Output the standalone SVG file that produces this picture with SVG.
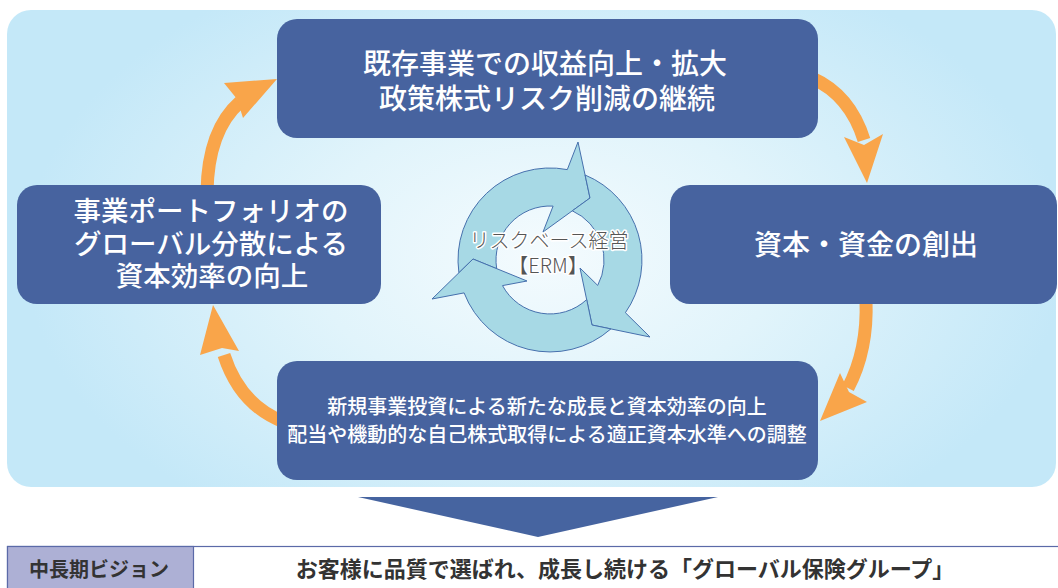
<svg xmlns="http://www.w3.org/2000/svg" width="1058" height="588" viewBox="0 0 1058 588">
<defs>
<radialGradient id="bg" gradientUnits="userSpaceOnUse" cx="545" cy="255" r="520" gradientTransform="translate(545 255) scale(1 0.62) translate(-545 -255)">
<stop offset="0" stop-color="#f4fbfe"/>
<stop offset="0.45" stop-color="#e1f4fb"/>
<stop offset="1" stop-color="#c4e8f8"/>
</radialGradient>
<style>
.box{fill:#47639f;}
.bt{font-family:"Noto Sans CJK JP","Noto Sans",sans-serif;fill:#ffffff;font-weight:500;text-anchor:middle;}
.ring{fill:#a7d9e5;stroke:#4670ad;stroke-width:1;stroke-linejoin:miter;}
.stem{fill:none;stroke:#f9a54a;stroke-width:13;}
.head{fill:#f9a54a;}
.erm{font-family:"Noto Sans CJK JP","Noto Sans",sans-serif;font-size:20px;fill:#555555;stroke:#ffffff;stroke-width:3;paint-order:stroke;stroke-linejoin:round;text-anchor:middle;font-weight:300;}
.bar{font-family:"Noto Sans CJK JP","Noto Sans",sans-serif;font-weight:700;fill:#333333;text-anchor:middle;}
</style>
</defs>
<rect x="7" y="10" width="1049" height="477" rx="24" fill="url(#bg)"/>

<g id="erm">
<path class="ring" d="M 458.9,272.8 A 92 92 0 0 1 567.3,169.6 L 578,142 L 590,198 L 543,232 L 553.1,206.1 A 54 54 0 0 0 496.7,268.7 L 473,259 Z"/>
<path class="ring" d="M 585.1,175 A 92 92 0 0 1 625.4,312.7 L 650,337 L 592,325 L 580,268 L 597.7,285.4 A 54 54 0 0 0 572.3,210.8 L 590,198 Z"/>
<path class="ring" d="M 610.9,328.9 A 92 92 0 0 1 464.1,292.9 L 432,299 L 473,259 L 527,281 L 502.5,285.6 A 54 54 0 0 0 586.7,299.6 L 592,325 Z"/>
<text class="erm" x="549" y="248">リスクベース経営</text>
<text class="erm" x="548" y="273">【ERM】</text>
</g>

<g id="connectors">
<path class="stem" d="M 812 78 Q 850 95 864 140"/>
<polygon class="head" points="844,137 867,183 883,134 864,145"/>
<path class="stem" d="M 866 300 Q 868 350 848 388"/>
<polygon class="head" points="840,373 820,421 867,402 849,392"/>
<path class="stem" d="M 284 422 Q 240 405 224 355"/>
<polygon class="head" points="200,355 213,305 239,351 222,348"/>
<path class="stem" d="M 207 192 Q 208 130 240 102"/>
<polygon class="head" points="224,83 277,79 243,118 237,99"/>
</g>

<g id="node-top">
<rect class="box" x="277" y="19" width="541" height="119" rx="20"/>
<text class="bt" x="545" y="74" font-size="28">既存事業での収益向上・拡大</text>
<text class="bt" x="547" y="109" font-size="28">政策株式リスク削減の継続</text>
</g>
<g id="node-right">
<rect class="box" x="670" y="185" width="387" height="119" rx="20"/>
<text class="bt" x="866" y="255" font-size="28">資本・資金の創出</text>
</g>
<g id="node-left">
<rect class="box" x="17" y="185" width="364" height="119" rx="20"/>
<text class="bt" x="211" y="221" font-size="27.5">事業ポートフォリオの</text>
<text class="bt" x="211" y="254" font-size="27.5">グローバル分散による</text>
<text class="bt" x="212" y="286" font-size="27.5">資本効率の向上</text>
</g>
<g id="node-bottom">
<rect class="box" x="277" y="361" width="541" height="119" rx="20"/>
<text class="bt" x="547" y="414" font-size="20">新規事業投資による新たな成長と資本効率の向上</text>
<text class="bt" x="547" y="442" font-size="20">配当や機動的な自己株式取得による適正資本水準への調整</text>
</g>

<g id="down-arrow">
<polygon points="358,497 718,497 538,537" fill="#4664a0"/>
</g>

<g id="vision">
<rect x="7.5" y="546.5" width="1060" height="50" fill="#ffffff" stroke="#5b6aa8" stroke-width="1.2"/>
<rect x="7.5" y="546.5" width="186" height="50" fill="#adb0d5" stroke="#5b6aa8" stroke-width="1.2"/>
<text class="bar" x="99" y="577" font-size="20">中長期ビジョン</text>
<text class="bar" x="625" y="577" font-size="22">お客様に品質で選ばれ、成長し続ける「グローバル保険グループ」</text>
</g>
</svg>
